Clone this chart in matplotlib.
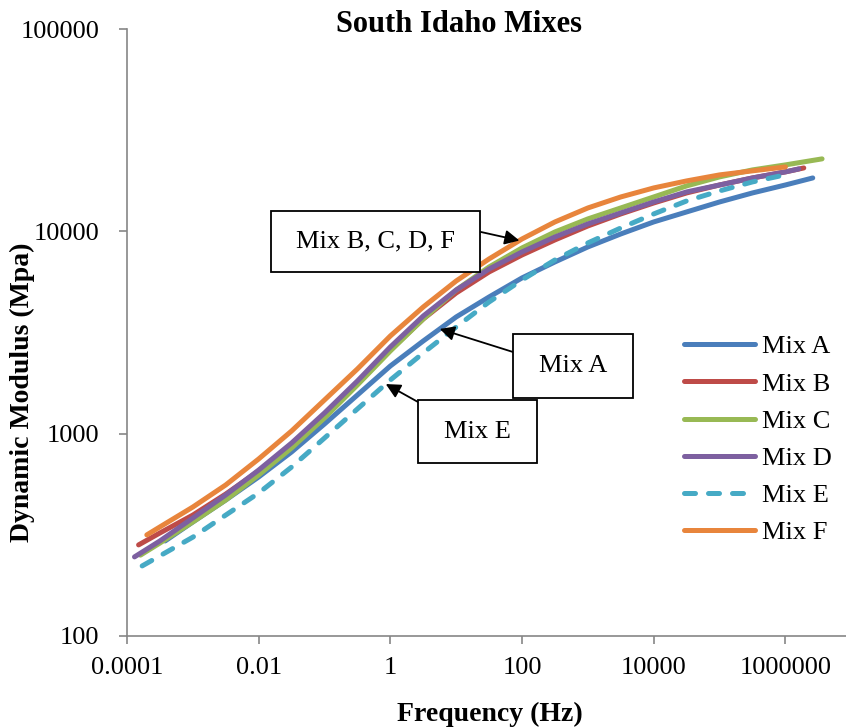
import numpy as np
import matplotlib
matplotlib.use("Agg")
import matplotlib.pyplot as plt
from matplotlib.patches import Rectangle

plt.rcParams['font.family'] = ['Liberation Serif', 'DejaVu Serif']

# ==================================================
# DATA
# ==================================================
# half-decade frequency grid (Hz), 10^-3.5 ... 10^6
half_decades = [0.000316, 0.001, 0.00316, 0.01, 0.0316, 0.1, 0.316, 1, 3.16, 10,
                31.6, 100, 316, 1000, 3160, 10000, 31600, 100000, 316000, 1000000]

freq_a = [0.00038] + half_decades[1:] + [2600000]
mod_a = [295, 366, 470, 611, 812, 1117, 1553, 2161, 2872, 3775, 4740,
         5887, 7059, 8374, 9707, 11130, 12470, 13970, 15480, 16950, 18360]

freq_b = [0.00015] + half_decades + [1900000]
mod_b = [282, 323, 396, 503, 654, 879, 1237, 1761, 2593, 3690, 4960,
         6300, 7643, 9070, 10630, 12190, 13810, 15480, 16950, 18360, 19670, 20570]

freq_c = [0.00016] + half_decades + [3600000]
mod_c = [251, 288, 366, 470, 625, 850, 1196, 1741, 2564, 3690, 5132,
         6668, 8279, 9931, 11520, 13050, 14790, 16770, 18580, 20120, 21300, 22810]

freq_d = [0.00013] + half_decades + [1600000]
mod_d = [246, 295, 383, 498, 661, 899, 1266, 1822, 2683, 3817, 5132,
         6517, 7910, 9383, 10880, 12330, 13970, 15660, 16950, 18360, 19670, 20340]

freq_e = [0.00017] + half_decades[:-1] + [1150000]
mod_e = [222, 249, 308, 396, 509, 684, 952, 1325, 1842, 2506, 3368,
         4477, 5752, 7222, 8763, 10390, 12190, 14130, 15840, 17550, 19220]

freq_f = [0.0002] + half_decades
mod_f = [316, 346, 434, 558, 750, 1031, 1468, 2089, 3041, 4229, 5687,
         7307, 9171, 11130, 13050, 14790, 16390, 17750, 19010, 19900, 20810]

labels = ["Mix A", "Mix B", "Mix C", "Mix D", "Mix E", "Mix F"]
colors = ["#4A7EBB", "#BE4B48", "#98B954", "#7D60A0", "#46AAC5", "#E8853C"]

x_ticks = [0.0001, 0.01, 1, 100, 10000, 1000000]
x_tick_labels = ["0.0001", "0.01", "1", "100", "10000", "1000000"]
y_ticks = [100, 1000, 10000, 100000]
y_tick_labels = ["100", "1000", "10000", "100000"]

series = [(freq_a, mod_a), (freq_b, mod_b), (freq_c, mod_c),
          (freq_d, mod_d), (freq_e, mod_e), (freq_f, mod_f)]

# ==================================================
# FIGURE
# ==================================================
W, H = 846, 728
fig = plt.figure(figsize=(W / 100, H / 100), dpi=100)
ax = fig.add_axes([127 / W, 92 / H, (W - 127) / W, (636 - 29) / H])

for (fr, md), lab, col in zip(series, labels, colors):
    line, = ax.plot(fr, md, color=col, lw=3.6, label=lab,
                    solid_capstyle='round', dash_capstyle='round',
                    solid_joinstyle='round')
    if lab == "Mix E":
        line.set_dashes((2.2, 2.6))

ax.set_xscale('log')
ax.set_yscale('log')
ax.set_xlim(1e-4, 10 ** 6.92)
ax.set_ylim(100, 100000)
ax.set_xticks(x_ticks)
ax.set_xticklabels(x_tick_labels)
ax.set_yticks(y_ticks)
ax.set_yticklabels(y_tick_labels)
ax.minorticks_off()

for side in ['top', 'right']:
    ax.spines[side].set_visible(False)
for side in ['left', 'bottom']:
    ax.spines[side].set_color('#868686')
    ax.spines[side].set_linewidth(1.2)
ax.tick_params(axis='both', colors='#868686', length=6, width=1.2,
               labelsize=19, labelcolor='black')
ax.tick_params(axis='x', pad=9)
ax.tick_params(axis='y', pad=14)

fig.text(459 / W, 1 - 25 / H, "South Idaho Mixes", ha='center', va='center',
         fontsize=22, fontweight='bold')
fig.text(490 / W, 1 - 714 / H, "Frequency (Hz)", ha='center', va='center',
         fontsize=20, fontweight='bold')
fig.text(22 / W, 1 - 392 / H, "Dynamic Modulus (Mpa)", ha='center', va='center',
         rotation=90, fontsize=20, fontweight='bold')

ax.legend(loc='upper left', bbox_to_anchor=(684 / W, 1 - 335 / H),
          bbox_transform=fig.transFigure, frameon=False, fontsize=19,
          handlelength=2.7, handletextpad=0.25, labelspacing=0.52,
          borderpad=0, borderaxespad=0)

# ==================================================
# ANNOTATIONS
# ==================================================
def on_curve(fr, md, f):
    return 10 ** np.interp(np.log10(f), np.log10(fr), np.log10(md))

boxes = [
    ("Mix B, C, D, F", (271, 211, 480, 272), (481, 232), freq_f, mod_f, 10 ** 1.96),
    ("Mix A", (513, 334, 633, 398), (513, 352), freq_a, mod_a, 10 ** 0.75),
    ("Mix E", (418, 400, 537, 463), (418, 402), freq_e, mod_e, 10 ** -0.07),
]
for text, (x0, y0, x1, y1), (tx, ty), fr, md, f in boxes:
    fig.patches.append(Rectangle((x0 / W, 1 - y1 / H), (x1 - x0) / W, (y1 - y0) / H,
                                 transform=fig.transFigure, facecolor='white',
                                 edgecolor='black', lw=1.3, zorder=5))
    fig.text((x0 + x1) / 2 / W, 1 - (y0 + y1) / 2 / H, text, ha='center',
             va='center', fontsize=19, zorder=6)
    ax.annotate("", xy=(f, on_curve(fr, md, f)), xycoords='data',
                xytext=(tx / W, 1 - ty / H), textcoords='figure fraction',
                arrowprops=dict(arrowstyle='-|>', mutation_scale=22, lw=1.3,
                                color='black', shrinkA=0, shrinkB=0),
                zorder=7)

fig.savefig("out.png", dpi=100)
